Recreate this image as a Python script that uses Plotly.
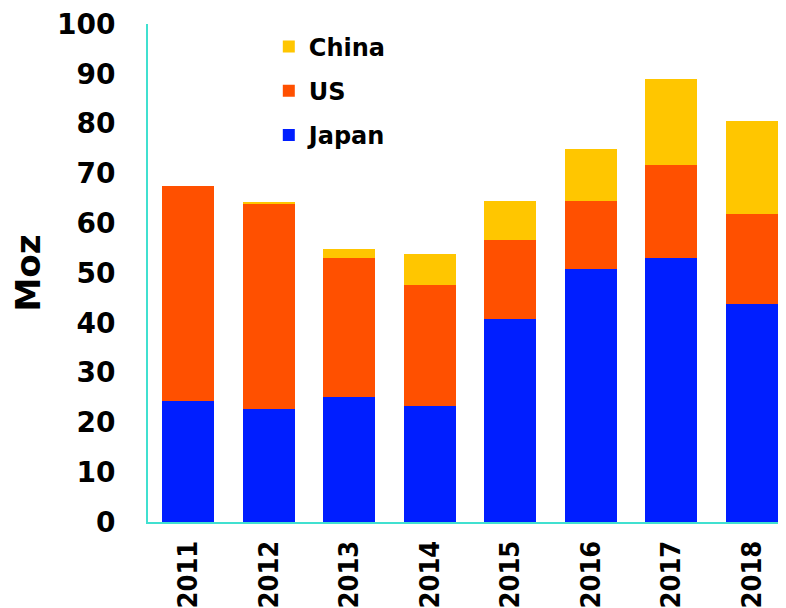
import plotly.graph_objects as go

years = ["2011", "2012", "2013", "2014", "2015", "2016", "2017", "2018"]
japan = [24.3, 22.7, 25.1, 23.3, 40.8, 50.8, 53.0, 43.7]
us = [43.1, 41.1, 28.0, 24.3, 15.9, 13.6, 18.6, 18.1]
china = [0.0, 0.5, 1.7, 6.2, 7.8, 10.6, 17.3, 18.7]

colors = {"Japan": "#001EFF", "US": "#FF5000", "China": "#FFC600"}
ranks = {"China": 1, "US": 2, "Japan": 3}
FONT = "DejaVu Sans"

fig = go.Figure()
for name, vals in [("Japan", japan), ("US", us), ("China", china)]:
    fig.add_trace(go.Bar(
        x=years, y=vals, name=name, legendgroup=name, legendrank=ranks[name],
        marker=dict(color=colors[name], line=dict(width=0)),
    ))

axis_col = "#40E0D0"
fig.update_layout(
    width=786, height=608,
    barmode="stack", bargap=0.354,
    plot_bgcolor="white", paper_bgcolor="white",
    margin=dict(l=140, r=0, t=16, b=94, autoexpand=False),
    font=dict(family=FONT, color="black", size=24, weight="bold"),
    legend=dict(
        x=0.187, y=0.999, xanchor="left", yanchor="top",
        traceorder="grouped", tracegroupgap=10, itemwidth=30,
        font=dict(family=FONT, size=24, color="black", weight="bold"),
        bgcolor="rgba(0,0,0,0)",
    ),
    xaxis=dict(
        type="category", range=[-0.5, 7.525], automargin=False,
        showline=True, linecolor=axis_col, linewidth=2,
        showgrid=False, ticks="", tickangle=-90,
        tickfont=dict(family="DejaVu Sans Condensed, DejaVu Sans", size=27,
                      color="black", weight="bold"),
        ticklabelstandoff=6,
    ),
    yaxis=dict(
        range=[0, 100], tickvals=list(range(0, 101, 10)), automargin=False,
        showline=True, linecolor=axis_col, linewidth=2,
        showgrid=False, ticks="", zeroline=False,
        ticklabeloverflow="allow",
        tickfont=dict(family=FONT, size=28, color="black", weight="bold"),
        ticklabelstandoff=25,
        title=dict(text="Moz", standoff=8,
                   font=dict(family=FONT, size=34, color="black", weight="bold")),
    ),
)

fig.write_html("out.html")
